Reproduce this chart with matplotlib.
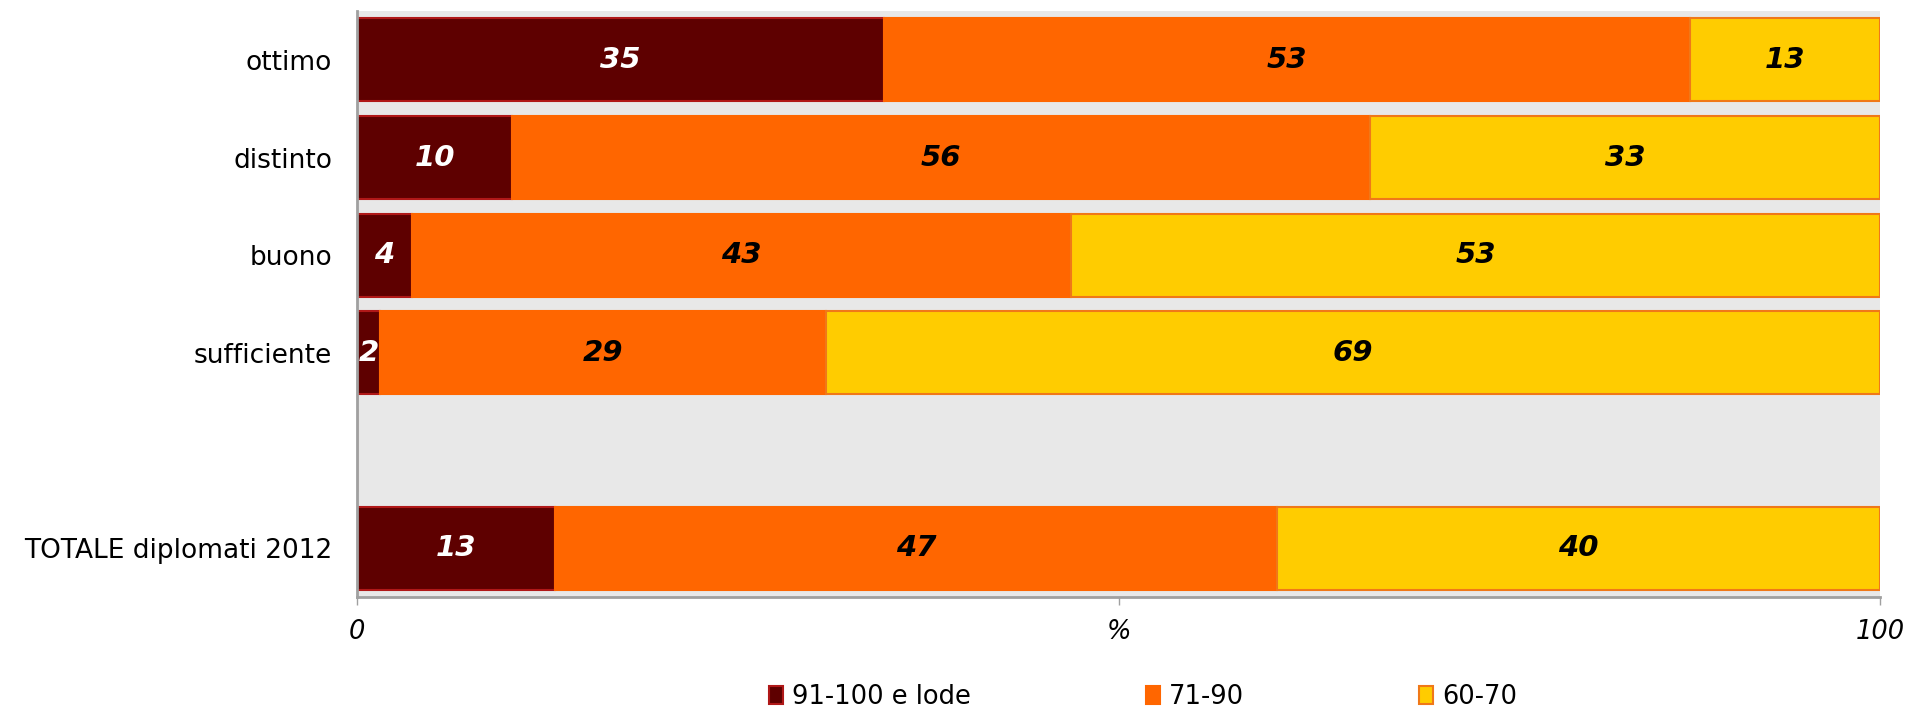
import numpy as np
from matplotlib import pyplot as plt
from matplotlib.patches import Patch

categories = ['ottimo', 'distinto', 'buono', 'sufficiente', '', 'TOTALE diplomati 2012']
# percentages (blank row = spacer)
top = [34.6, 10.2, 3.6, 1.5, 0, 13.0]
mid = [52.9, 56.3, 43.3, 29.3, 0, 47.4]
low = [12.5, 33.5, 53.1, 69.2, 0, 39.6]
# numbers printed inside the bars
top_lab = ['35', '10', '4', '2', '', '13']
mid_lab = ['53', '56', '43', '29', '', '47']
low_lab = ['13', '33', '53', '69', '', '40']
series = ['91-100 e lode', '71-90', '60-70']

fill = ['#5E0000', '#FF6600', '#FFCC00']
edge = ['#B01818', '#FF6600', '#F07818']

fig = plt.figure(figsize=(19.10, 7.09), dpi=100)
ax = fig.add_axes([357/1910, 1-597/709, (1880-357)/1910, (597-11)/709])
ax.set_facecolor('#E8E8E8')

y = np.arange(len(categories))
left = np.zeros(len(categories))
for vals, labs, fc, ec, tc in zip([top, mid, low], [top_lab, mid_lab, low_lab], fill, edge,
                                  ['white', 'black', 'black']):
    vals = np.array(vals)
    ax.barh(y, vals, left=left, height=0.85, color=fc, edgecolor=ec, linewidth=1.5)
    for yi, v, l, lab in zip(y, vals, left, labs):
        if lab:
            ax.text(l + v/2, yi, lab, ha='center', va='center', color=tc,
                    fontsize=21, fontweight='bold', fontstyle='italic')
    left = left + vals

ax.set_xlim(0, 100)
ax.set_ylim(5.5, -0.5)
ax.set_yticks(y)
ax.set_yticklabels(categories, fontsize=19)
ax.tick_params(axis='y', length=0, pad=18)
ax.set_xticks([0, 50, 100])
ax.set_xticklabels(['0', '%', '100'], fontsize=18.5, fontstyle='italic')
ax.tick_params(axis='x', length=6, width=1, color='#A0A0A0', pad=10)
for s in ['top', 'right']:
    ax.spines[s].set_visible(False)
for s in ['left', 'bottom']:
    ax.spines[s].set_color('#A0A0A0')
    ax.spines[s].set_linewidth(2)

handles = [Patch(facecolor=fc, edgecolor=ec, linewidth=1.5) for fc, ec in zip(fill, edge)]
fig.legend(handles, series, loc='center', bbox_to_anchor=(1143/1910, 1-697/709), ncol=3,
           frameon=False, fontsize=18.5, handlelength=0.55, handleheight=0.75,
           handletextpad=0.35, columnspacing=6.8)

fig.savefig('out.png', dpi=100)
